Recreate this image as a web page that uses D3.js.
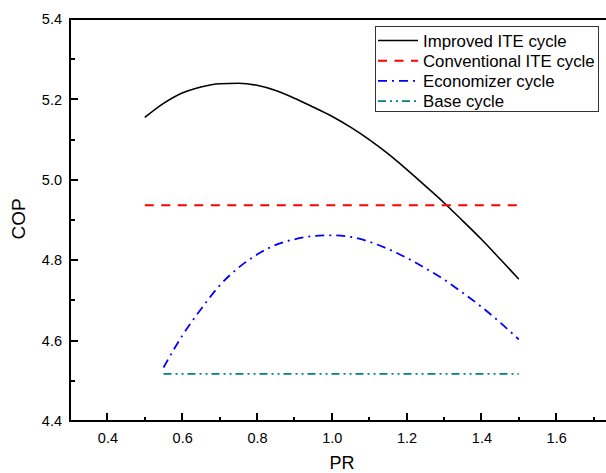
<!DOCTYPE html>
<html>
<head>
<meta charset="utf-8">
<script src="https://cdn.jsdelivr.net/npm/d3@7"></script>
<style>
  html, body { margin: 0; padding: 0; background: #fff; }
  svg { display: block; font-family: Arial, "Liberation Sans", sans-serif; }
</style>
</head>
<body>
<svg id="chart" width="606" height="473"></svg>
<script>
// Pressure ratio (PR) sample points for each cycle
const prImproved = [0.5, 0.55, 0.6, 0.65, 0.7, 0.75, 0.8, 0.85, 0.9, 0.95, 1.0,
                    1.05, 1.1, 1.15, 1.2, 1.25, 1.3, 1.35, 1.4, 1.45, 1.5];
const copImproved = [5.155, 5.19, 5.216, 5.231, 5.239, 5.240, 5.235, 5.222, 5.203, 5.181, 5.158,
                     5.131, 5.100, 5.065, 5.026, 4.985, 4.943, 4.898, 4.852, 4.803, 4.753];

const prConventional = [0.5, 1.5];
const copConventional = [4.937, 4.937];

const prEconomizer = [0.55, 0.6, 0.65, 0.7, 0.75, 0.8, 0.85, 0.9, 0.95, 1.0,
                      1.05, 1.1, 1.15, 1.2, 1.25, 1.3, 1.35, 1.4, 1.45, 1.5];
const copEconomizer = [4.533, 4.612, 4.678, 4.737, 4.781, 4.814, 4.838, 4.852, 4.860, 4.862,
                       4.858, 4.846, 4.828, 4.806, 4.780, 4.752, 4.719, 4.684, 4.645, 4.603];

const prBase = [0.55, 1.5];
const copBase = [4.517, 4.517];

const xTicks = [0.4, 0.6, 0.8, 1.0, 1.2, 1.4, 1.6];
const yTicks = [4.4, 4.6, 4.8, 5.0, 5.2, 5.4];

const seriesNames = ["Improved ITE cycle", "Conventional ITE cycle", "Economizer cycle", "Base cycle"];

const svg = d3.select("#chart");
const plotLeft = 70, plotTop = 19, plotBottom = 421;
// the frame runs to PR = 1.8, past the right edge of the page
const x = d3.scaleLinear().domain([0.3, 1.8]).range([plotLeft, plotLeft + 1.5 * 374]);
const y = d3.scaleLinear().domain([4.4, 5.4]).range([plotBottom, plotTop]);

const series = [
  { name: seriesNames[0], xs: prImproved, ys: copImproved, color: "#000000", width: 1.6, dash: null },
  { name: seriesNames[1], xs: prConventional, ys: copConventional, color: "#ff0000", width: 2, dash: "9,7.5" },
  { name: seriesNames[2], xs: prEconomizer, ys: copEconomizer, color: "#0000ff", width: 1.8, dash: "9,5,2,5" },
  { name: seriesNames[3], xs: prBase, ys: copBase, color: "#008080", width: 1.8, dash: "8,4,2,4,2,4" }
];

const line = d3.line().x(d => x(d[0])).y(d => y(d[1])).curve(d3.curveMonotoneX);

const plot = svg.append("g");
series.forEach(s => {
  plot.append("path")
    .datum(s.xs.map((v, i) => [v, s.ys[i]]))
    .attr("fill", "none")
    .attr("stroke", s.color)
    .attr("stroke-width", s.width)
    .attr("stroke-dasharray", s.dash)
    .attr("d", line);
});

// minor tick values
const xMinor = d3.range(0.3, 1.8, 0.1).map(v => +v.toFixed(2)).filter(v => !xTicks.some(t => Math.abs(t - v) < 1e-6));
const yMinor = d3.range(4.5, 5.4, 0.2).map(v => +v.toFixed(2));

// tick marks pointing into the plot
const tickG = svg.append("g").attr("stroke", "#000").attr("stroke-width", 2)
  .attr("shape-rendering", "crispEdges");
xTicks.forEach(v => tickG.append("line")
  .attr("x1", Math.round(x(v))).attr("x2", Math.round(x(v))).attr("y1", plotBottom).attr("y2", plotBottom - 8));
xMinor.forEach(v => tickG.append("line")
  .attr("x1", Math.round(x(v))).attr("x2", Math.round(x(v))).attr("y1", plotBottom).attr("y2", plotBottom - 4.5));
yTicks.forEach(v => tickG.append("line")
  .attr("y1", Math.round(y(v))).attr("y2", Math.round(y(v))).attr("x1", plotLeft).attr("x2", plotLeft + 8));
yMinor.forEach(v => tickG.append("line")
  .attr("y1", Math.round(y(v))).attr("y2", Math.round(y(v))).attr("x1", plotLeft).attr("x2", plotLeft + 4.5));

// tick labels through d3 axes
const xAxis = svg.append("g").attr("transform", `translate(0,${plotBottom})`)
  .call(d3.axisBottom(x).tickValues(xTicks).tickFormat(d3.format(".1f")).tickSize(0).tickPadding(12));
xAxis.select(".domain").remove();
xAxis.selectAll("text").attr("font-size", 14.5).attr("fill", "#000");

const yAxis = svg.append("g").attr("transform", `translate(${plotLeft},0)`)
  .call(d3.axisLeft(y).tickValues(yTicks).tickFormat(d3.format(".1f")).tickSize(0).tickPadding(8));
yAxis.select(".domain").remove();
yAxis.selectAll("text").attr("font-size", 14.5).attr("fill", "#000");

// frame: left, bottom and top edges
svg.append("path")
  .attr("d", `M${x(1.8)},${plotTop}H${plotLeft}V${plotBottom}H${x(1.8)}`)
  .attr("fill", "none").attr("stroke", "#000").attr("stroke-width", 2)
  .attr("shape-rendering", "crispEdges");

// axis titles
svg.append("text").attr("x", 342).attr("y", 469).attr("text-anchor", "middle")
  .attr("font-size", 18).text("PR");
svg.append("text").attr("transform", "translate(24.5,219) rotate(-90)").attr("text-anchor", "middle")
  .attr("font-size", 19).text("COP");

// legend
const legend = svg.append("g");
legend.append("rect").attr("x", 375.5).attr("y", 26.5).attr("width", 223).attr("height", 85)
  .attr("fill", "#fff").attr("stroke", "#333").attr("stroke-width", 1);
series.forEach((s, i) => {
  const cy = 40.5 + i * 20.2;
  legend.append("line").attr("x1", 378).attr("x2", 418).attr("y1", cy).attr("y2", cy)
    .attr("stroke", s.color).attr("stroke-width", s.width).attr("stroke-dasharray", s.dash);
  legend.append("text").attr("x", 423).attr("y", cy).attr("dy", "0.36em")
    .attr("font-size", 16.8).text(s.name);
});
</script>
</body>
</html>
